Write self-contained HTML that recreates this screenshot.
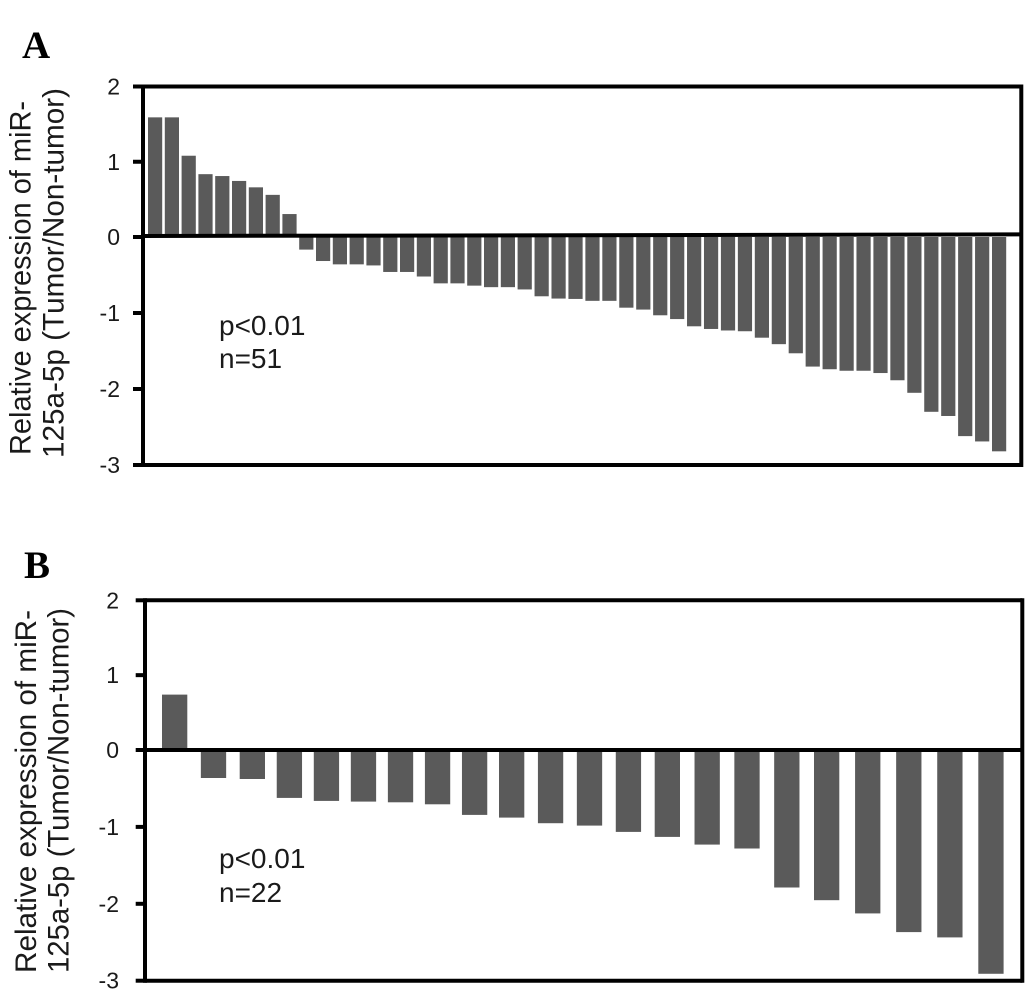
<!DOCTYPE html>
<html lang="en">
<head>
<meta charset="utf-8">
<title>Relative expression of miR-125a-5p</title>
<style>
html,body{margin:0;padding:0;background:#fff;}
svg{display:block;}
text{font-family:"Liberation Sans",Arial,sans-serif;fill:#1a1a1a;}
.letter{font-family:"Liberation Serif","Times New Roman",serif;font-weight:bold;font-size:39px;fill:#000;}
.tick{font-size:23px;text-anchor:end;}
.title{font-size:29.5px;}
.note{font-size:28px;}
</style>
</head>
<body>
<svg id="figure" xmlns="http://www.w3.org/2000/svg" width="1033" height="1008" viewBox="0 0 1033 1008">
  <rect x="0" y="0" width="1033" height="1008" fill="#fff"/>
  <text class="letter" x="22" y="58">A</text>
  <text class="letter" x="24" y="578">B</text>

  <text class="title" transform="translate(30.5 455) rotate(-90)" textLength="354" lengthAdjust="spacingAndGlyphs">Relative expression of miR-</text>
  <text class="title" transform="translate(63.5 458) rotate(-90)" textLength="370" lengthAdjust="spacingAndGlyphs">125a-5p (Tumor/Non-tumor)</text>
  <text class="title" transform="translate(36 973) rotate(-90)" textLength="363" lengthAdjust="spacingAndGlyphs">Relative expression of miR-</text>
  <text class="title" transform="translate(68.5 973) rotate(-90)" textLength="365" lengthAdjust="spacingAndGlyphs">125a-5p (Tumor/Non-tumor)</text>

  <text class="note" x="219" y="335">p&lt;0.01</text>
  <text class="note" x="219" y="368">n=51</text>
  <text class="note" x="219" y="868">p&lt;0.01</text>
  <text class="note" x="219" y="902">n=22</text>

  <g id="panel-a"></g>
  <g id="panel-b"></g>
</svg>
<script>
const tickValues = [2, 1, 0, -1, -2, -3];
const tickLabels = ['2', '1', '0', '-1', '-2', '-3'];
const valuesA = [1.59, 1.59, 1.08, 0.835, 0.81, 0.745, 0.66, 0.56, 0.305,
  -0.166, -0.316, -0.36, -0.36, -0.374, -0.46, -0.46, -0.52, -0.61, -0.61,
  -0.64, -0.66, -0.66, -0.69, -0.78, -0.81, -0.815, -0.84, -0.84, -0.93,
  -0.955, -1.03, -1.08, -1.175, -1.21, -1.23, -1.24, -1.325, -1.41, -1.53,
  -1.705, -1.74, -1.76, -1.76, -1.79, -1.885, -2.05, -2.30, -2.355, -2.62,
  -2.69, -2.82];
const valuesB = [0.74, -0.364, -0.377, -0.623, -0.662, -0.671, -0.68, -0.706,
  -0.844, -0.879, -0.952, -0.983, -1.065, -1.13, -1.23, -1.281, -1.788,
  -1.953, -2.125, -2.368, -2.437, -2.91];

const NS = 'http://www.w3.org/2000/svg';

function scale(domain, range) {
  return function (v) {
    let k = 0;
    const asc = domain[domain.length - 1] > domain[0];
    while (k < domain.length - 2 && (asc ? v > domain[k + 1] : v < domain[k + 1])) k++;
    const t = (v - domain[k]) / (domain[k + 1] - domain[k]);
    return range[k] + t * (range[k + 1] - range[k]);
  };
}

function make(parent, tag, attrs) {
  const node = document.createElementNS(NS, tag);
  for (const key in attrs) node.setAttribute(key, attrs[key]);
  parent.appendChild(node);
  return node;
}

function drawPanel(opts) {
  const g = document.getElementById(opts.id);
  const x = opts.x;
  const y = opts.y;

  opts.values.forEach(function (v, i) {
    const top = Math.min(y(0), y(v));
    const bar = make(g, 'rect', {
      x: x(i), y: top, width: opts.barWidth, height: Math.abs(y(v) - y(0)), fill: '#5a5a5a'
    });
    
    
  });

  const lineStyle = { stroke: '#000', 'stroke-width': opts.stroke };

  const axis = make(g, 'line', Object.assign({
    x1: opts.left, x2: opts.left, y1: y(2) - opts.stroke / 2, y2: y(-3) + opts.stroke / 2
  }, lineStyle));
  
  

  const rightEdge = make(g, 'line', Object.assign({
    x1: opts.right, x2: opts.right, y1: y(2) - opts.stroke / 2, y2: y(-3) + opts.stroke / 2
  }, lineStyle));
  
  

  const topEdge = make(g, 'line', Object.assign({
    x1: opts.left, x2: opts.right, y1: y(2), y2: y(2)
  }, lineStyle));
  
  

  const bottomEdge = make(g, 'line', Object.assign({
    x1: opts.left, x2: opts.right, y1: y(-3), y2: y(-3)
  }, lineStyle));
  
  

  const zero = make(g, 'line', Object.assign({
    x1: opts.left, x2: opts.right, y1: y(0) + opts.zeroTiltLeft, y2: y(0) + opts.zeroTiltRight
  }, lineStyle));
  
  

  tickValues.forEach(function (v, i) {
    const tick = make(g, 'line', Object.assign({
      x1: opts.tickStart, x2: opts.left, y1: y(v), y2: y(v)
    }, lineStyle));
    
    

    const label = make(g, 'text', { class: 'tick', x: opts.labelRight, y: y(v) + opts.labelDrop });
    
    
    label.textContent = tickLabels[i];
  });
}

drawPanel({
  id: 'panel-a',
  values: valuesA,
  x: scale([0, 22, 50], [148, 517.6, 992]),
  y: scale([2, 0, -3], [86.5, 237, 465]),
  barWidth: 14.2,
  left: 143,
  right: 1021.3,
  tickStart: 133,
  labelRight: 120,
  labelDrop: 8,
  stroke: 4,
  zeroTiltLeft: -1,
  zeroTiltRight: -2.6
});

drawPanel({
  id: 'panel-b',
  values: valuesB,
  x: scale([0, 2, 9, 13, 17, 21], [162, 239.7, 499, 654.7, 814, 978.3]),
  y: scale([2, 0, -3], [600.3, 750, 980.7]),
  barWidth: 25.3,
  left: 145,
  right: 1022.3,
  tickStart: 135.7,
  labelRight: 119,
  labelDrop: 8,
  stroke: 4,
  zeroTiltLeft: 0,
  zeroTiltRight: 0
});
</script>
</body>
</html>
